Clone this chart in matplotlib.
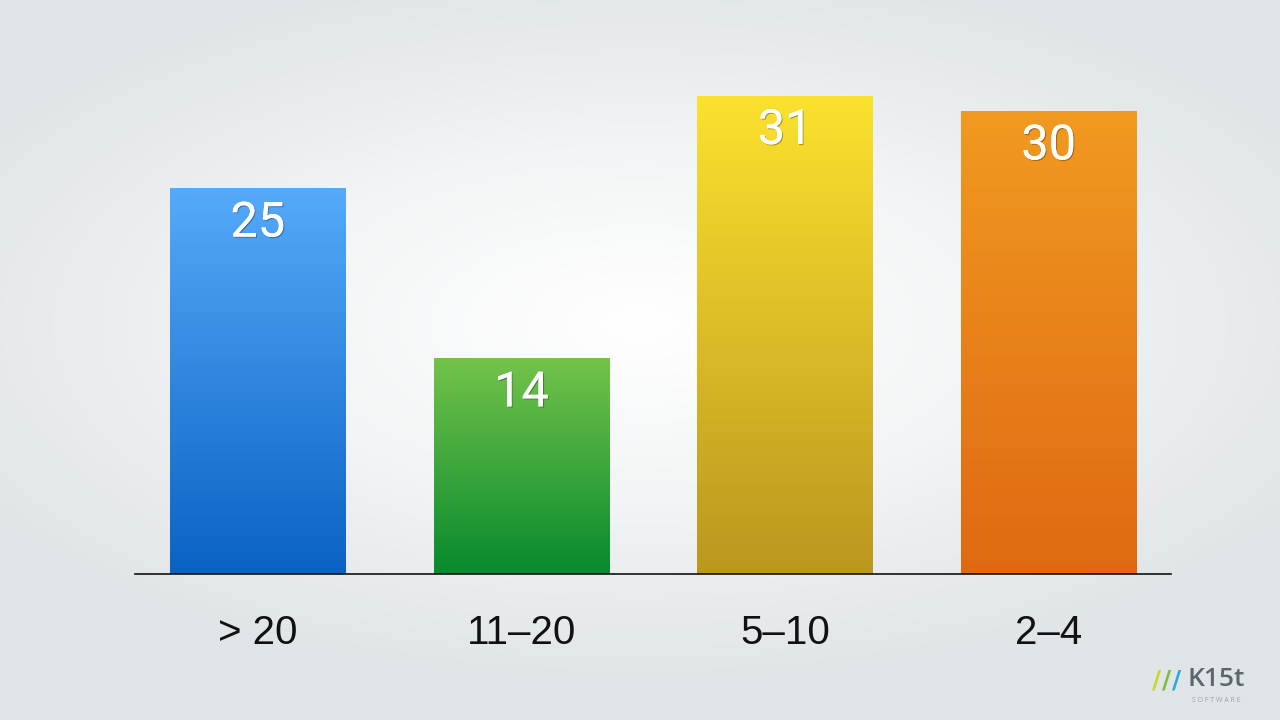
import numpy as np
import matplotlib.pyplot as plt
import matplotlib.patheffects as pe
from matplotlib.colors import LinearSegmentedColormap

# values
categories = ['> 20', '11\u201320', '5\u201310', '2\u20134']
values = [25, 14, 31, 30]
top_colors = ['#56aaf9', '#74c34b', '#fbe22e', '#f19a21']
bottom_colors = ['#0a62c3', '#078a2d', '#bb971f', '#df6912']

fig = plt.figure(figsize=(12.8, 7.2), dpi=100)

# radial background, white in the middle, grey-blue at the edges
bg = fig.add_axes([0, 0, 1, 1])
yy, xx = np.mgrid[-1:1:360j, -1:1:640j]
r = np.sqrt((xx / 1.2) ** 2 + ((yy + 0.1) / 1.0) ** 2)
r = np.clip(r, 0, 1)
bg_cmap = LinearSegmentedColormap.from_list('bg', ['#ffffff', '#f2f4f5', '#e0e5e8'])
bg.imshow(r, cmap=bg_cmap, aspect='auto', extent=[0, 1, 0, 1], interpolation='bilinear')
bg.axis('off')

ax = fig.add_axes([135 / 1280, 1 - 574 / 720, (1171 - 135) / 1280, (574 - 60) / 720])
ax.patch.set_alpha(0)
x = np.arange(len(categories))
width = 176 / 264
bars = ax.bar(x, values, width=width, color='none', edgecolor='none')

grad = np.linspace(1, 0, 256).reshape(-1, 1)
for bar, c1, c2, v in zip(bars, top_colors, bottom_colors, values):
    cm = LinearSegmentedColormap.from_list('g', [c2, c1])
    x0 = bar.get_x()
    im = ax.imshow(grad, cmap=cm, aspect='auto', extent=[x0, x0 + bar.get_width(), 0, v],
                   interpolation='bilinear', vmin=0, vmax=1)
    im.set_clip_path(bar)
    ax.text(bar.get_x() + bar.get_width() / 2, v - 2.3, str(v), ha='center', va='center',
            fontsize=35, color='white', family='Roboto', fontweight='normal',
            path_effects=[pe.withSimplePatchShadow(offset=(0.8, -0.8), shadow_rgbFace='#000000', alpha=0.3),
                          pe.Normal()])

ax.set_xlim(-0.466, 3.464)
ax.set_ylim(0, 33.3)
for s in ['top', 'right', 'left']:
    ax.spines[s].set_visible(False)
ax.spines['bottom'].set_color('#111111')
ax.spines['bottom'].set_linewidth(1.2)
ax.set_yticks([])
ax.set_xticks(x)
ax.set_xticklabels(categories, fontsize=29, family='Liberation Sans', color='#111111')
ax.tick_params(axis='x', length=0, pad=29)

# logo in the corner
for lx, lc in zip([1157, 1167, 1177], ['#c5d82a', '#7dbb3c', '#27a9e1']):
    fig.text(lx / 1280, 1 - 681 / 720, '/', color=lc, fontsize=18, fontweight='bold',
             ha='center', va='center', family='DejaVu Sans')
fig.text(1188 / 1280, 1 - 679 / 720, 'K15t', color='#5b666d', fontsize=19, fontweight='semibold',
         ha='left', va='center', family='Open Sans')
fig.text(1216 / 1280, 1 - 700 / 720, 'S O F T W A R E', color='#9aa3a8', fontsize=5,
         ha='center', va='center', family='Open Sans')

fig.savefig('out.png', dpi=100)
